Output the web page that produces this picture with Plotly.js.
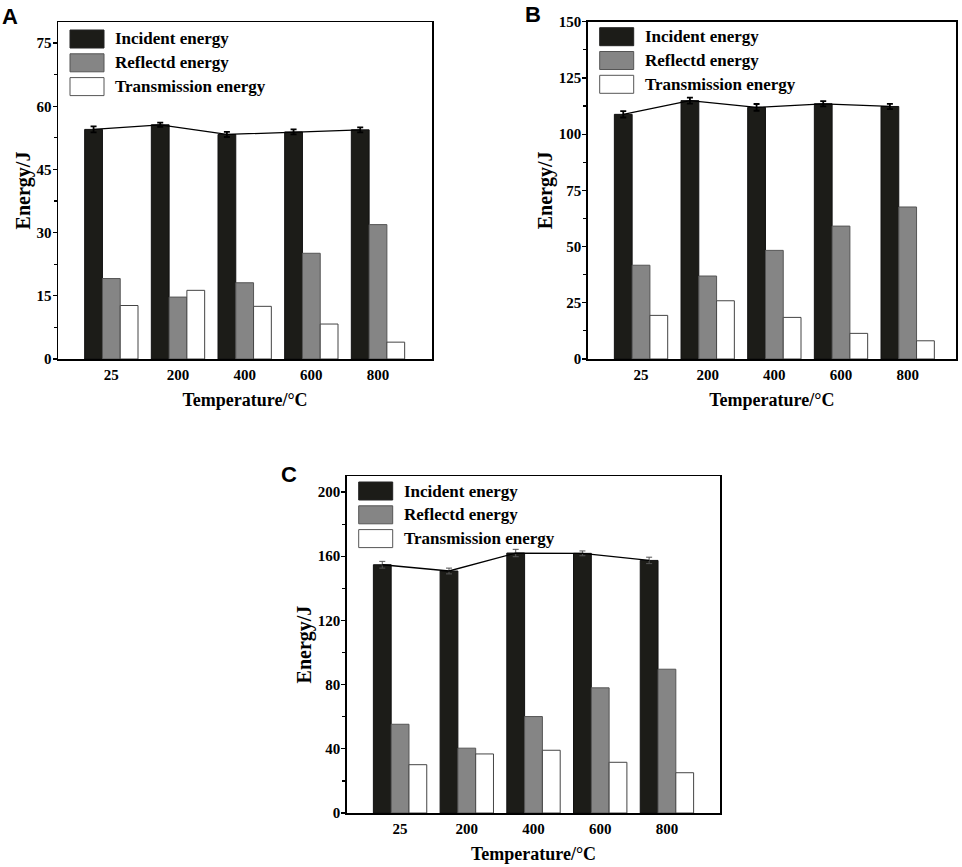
<!DOCTYPE html>
<html>
<head>
<meta charset="utf-8">
<script src="https://cdn.plot.ly/plotly-3.0.1.min.js"></script>
<style>html,body{margin:0;padding:0;background:#fff}#chart{width:962px;height:867px}</style>
</head>
<body>
<div id="chart"></div>
<script>
// ---- data ----
const temps = ['25', '200', '400', '600', '800'];
const seriesNames = ['Incident energy', 'Reflectd energy', 'Transmission energy'];

const incidentA = [54.5, 55.6, 53.3, 53.9, 54.4];
const incidentErrA = [0.7, 0.5, 0.6, 0.6, 0.6];
const reflectedA = [19.1, 14.7, 18.1, 25.1, 31.9];
const transmissionA = [12.7, 16.3, 12.5, 8.3, 4.0];

const incidentB = [108.8, 114.9, 111.9, 113.5, 112.3];
const incidentErrB = [1.4, 1.3, 1.5, 1.2, 1.2];
const reflectedB = [41.7, 36.9, 48.3, 59.1, 67.6];
const transmissionB = [19.4, 25.9, 18.5, 11.4, 8.1];

const incidentC = [154.7, 150.8, 162.0, 161.8, 157.4];
const incidentErrC = [2.1, 1.8, 2.3, 1.5, 2.0];
const reflectedC = [55.3, 40.4, 60.1, 78.0, 89.6];
const transmissionC = [30.1, 36.8, 39.1, 31.6, 25.1];

const xTitle = 'Temperature/°C';
const yTitle = 'Energy/J';

// ---- style ----
const SERIF = '"Liberation Serif", "Times New Roman", serif';
const SANS = '"Liberation Sans", Arial, sans-serif';
const colIncident = '#1c1c18';
const colReflected = '#858585';
const colTransmission = '#ffffff';

const idx = temps.map((_, i) => i);
const nSeries = 3;
const groupWidth = 0.8;
const incidentOffset = -groupWidth / nSeries; // centre of first bar in the group

const panels = [
  { letter: 'A', xa: 'x', ya: 'y', inc: incidentA, err: incidentErrA, ref: reflectedA, tra: transmissionA,
    xdom: [58/962, 432/962], ydom: [1-359/867, 1-22/867], yrange: [0, 80], dtick: 15, minor: 7.5,
    xrange: [-0.8, 4.81], legTop: 8, letterPos: [0, 2], errStyle: { color: '#000', thickness: 1.8, width: 3 } },
  { letter: 'B', xa: 'x2', ya: 'y2', inc: incidentB, err: incidentErrB, ref: reflectedB, tra: transmissionB,
    xdom: [587.7/962, 956/962], ydom: [1-359/867, 1-21.7/867], yrange: [0, 150], dtick: 25, minor: 12.5,
    xrange: [-0.8, 4.725], legTop: 6, letterPos: [523, 0], errStyle: { color: '#000', thickness: 1.8, width: 3 } },
  { letter: 'C', xa: 'x3', ya: 'y3', inc: incidentC, err: incidentErrC, ref: reflectedC, tra: transmissionC,
    xdom: [346.7/962, 720.3/962], ydom: [1-813/867, 1-476/867], yrange: [0, 210], dtick: 40, minor: 20,
    xrange: [-0.8, 4.8], legTop: 6, letterPos: [279, 460], errStyle: { color: '#555', thickness: 1, width: 3 } }
];

const data = [];
const layout = {
  width: 962, height: 867,
  margin: { l: 0, r: 0, t: 0, b: 0 },
  paper_bgcolor: '#fff', plot_bgcolor: '#fff',
  barmode: 'group', bargap: 1 - groupWidth, bargroupgap: 0,
  showlegend: false,
  font: { family: SERIF, color: '#000' },
  shapes: [], annotations: []
};

panels.forEach((p) => {
  const common = { xaxis: p.xa, yaxis: p.ya, x: idx, hoverinfo: 'y' };
  data.push(Object.assign({}, common, {
    type: 'bar', name: seriesNames[0], y: p.inc,
    marker: { color: colIncident, line: { color: '#111', width: 1 } },
    error_y: Object.assign({ type: 'data', array: p.err, visible: true }, p.errStyle)
  }));
  data.push(Object.assign({}, common, {
    type: 'bar', name: seriesNames[1], y: p.ref,
    marker: { color: colReflected, line: { color: '#555', width: 1 } }
  }));
  data.push(Object.assign({}, common, {
    type: 'bar', name: seriesNames[2], y: p.tra,
    marker: { color: colTransmission, line: { color: '#444', width: 1 } }
  }));
  data.push({
    type: 'scatter', mode: 'lines', xaxis: p.xa, yaxis: p.ya, name: seriesNames[0] + ' trend',
    x: idx.map(i => i + incidentOffset), y: p.inc,
    line: { color: '#000', width: 1.3 }, hoverinfo: 'skip'
  });

  const xk = p.xa === 'x' ? 'xaxis' : 'xaxis' + p.xa.slice(1);
  const yk = p.ya === 'y' ? 'yaxis' : 'yaxis' + p.ya.slice(1);
  layout[xk] = {
    domain: p.xdom, range: p.xrange, anchor: p.ya, type: 'linear',
    tickvals: idx, ticktext: temps, ticks: '', showgrid: false, zeroline: false,
    showline: true, mirror: true, linecolor: '#000', linewidth: 1.5,
    tickfont: { family: SERIF, size: 15, color: '#000', weight: 'bold' },
    ticklabelstandoff: 1,
    title: { text: '<b>' + xTitle + '</b>', font: { family: SERIF, size: 18, color: '#000' }, standoff: 12 },
    automargin: false, fixedrange: true
  };
  layout[yk] = {
    domain: p.ydom, range: p.yrange, anchor: p.xa, dtick: p.dtick, tick0: 0,
    ticks: 'outside', ticklen: 4, tickwidth: 1.2, tickcolor: '#000',
    minor: { dtick: p.minor, ticks: 'outside', ticklen: 3, tickwidth: 1.2, tickcolor: '#000', showgrid: false },
    showgrid: false, zeroline: false,
    showline: true, mirror: true, linecolor: '#000', linewidth: 1.5,
    tickfont: { family: SERIF, size: 15, color: '#000', weight: 'bold' },
    ticklabelstandoff: -2,
    title: { text: '<b>' + yTitle + '</b>', font: { family: SERIF, size: 20, color: '#000' }, standoff: 0 },
    automargin: false, fixedrange: true
  };

  // legend drawn inside the plot area
  const fills = [colIncident, colReflected, colTransmission];
  const lines = ['#222', '#555', '#555'];
  seriesNames.forEach((nm, k) => {
    const top = p.legTop + k * 23.8;
    layout.shapes.push({
      type: 'rect', xref: p.xa + ' domain', yref: p.ya + ' domain',
      xsizemode: 'pixel', ysizemode: 'pixel', xanchor: 0, yanchor: 1,
      x0: 12, x1: 46, y0: -top, y1: -(top + 18),
      fillcolor: fills[k], line: { color: lines[k], width: 1 }
    });
    layout.annotations.push({
      xref: p.xa + ' domain', yref: p.ya + ' domain', x: 0, y: 1,
      xshift: 55, yshift: -(top + 9), xanchor: 'left', yanchor: 'middle',
      text: '<b>' + nm + '</b>', showarrow: false,
      font: { family: SERIF, size: 17, color: '#000' }
    });
  });

  layout.annotations.push({
    xref: 'paper', yref: 'paper', x: p.letterPos[0] / 962, y: 1 - p.letterPos[1] / 867,
    xanchor: 'left', yanchor: 'top', text: '<b>' + p.letter + '</b>', showarrow: false,
    font: { family: SANS, size: 22, color: '#000' }
  });
});

Plotly.newPlot('chart', data, layout, { displayModeBar: false, staticPlot: true });
</script>
</body>
</html>
